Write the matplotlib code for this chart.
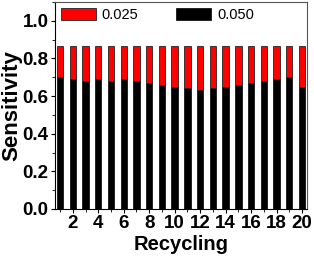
import numpy as np
import matplotlib
matplotlib.use('Agg')
import matplotlib.pyplot as plt
from matplotlib.ticker import MultipleLocator

# podaci ocitani sa slike
cycles = np.arange(1, 21)
black_050 = [0.70, 0.69, 0.68, 0.69, 0.68, 0.69, 0.68, 0.672, 0.66, 0.65,
             0.642, 0.633, 0.642, 0.65, 0.66, 0.669, 0.68, 0.69, 0.70, 0.65]
total = [0.868, 0.868, 0.868, 0.868, 0.866, 0.866, 0.866, 0.864, 0.866, 0.868,
         0.866, 0.868, 0.866, 0.866, 0.868, 0.866, 0.866, 0.868, 0.866, 0.864]
red_025 = [t - b for t, b in zip(total, black_050)]

plt.rcParams['font.family'] = ['Liberation Sans', 'DejaVu Sans']

fig = plt.figure(figsize=(3.14, 2.58), dpi=100)
ax = fig.add_axes([0.175, 0.19, 0.803, 0.802])

ax.bar(cycles, black_050, width=0.5, color='black', edgecolor='black', linewidth=0.5, label='0.050')
ax.bar(cycles, red_025, width=0.5, bottom=black_050, color='#ff0000', edgecolor='#222222',
       linewidth=0.6, label='0.025')

ax.set_xlim(0.6, 20.4)
ax.set_ylim(0, 1.1)
ax.xaxis.set_major_locator(MultipleLocator(2))
ax.xaxis.set_minor_locator(MultipleLocator(1))
ax.yaxis.set_minor_locator(MultipleLocator(0.1))
ax.set_yticks(np.arange(0, 1.01, 0.2))
ax.yaxis.set_major_formatter(plt.FormatStrFormatter('%.1f'))

ax.tick_params(which='major', direction='out', length=3, width=0.8, labelsize=13.5, pad=1.5)
ax.tick_params(which='minor', direction='out', length=2, width=0.6)
for lab in ax.get_xticklabels() + ax.get_yticklabels():
    lab.set_fontweight('bold')

ax.set_xlabel('Recycling', fontsize=14.5, fontweight='bold', labelpad=2)
ax.set_ylabel('Sensitivity', fontsize=16, fontweight='bold', labelpad=0)

for side in ['top', 'right']:
    ax.spines[side].set_color('#555555')
    ax.spines[side].set_linewidth(0.8)
for side in ['left', 'bottom']:
    ax.spines[side].set_linewidth(0.8)

handles, labels = ax.get_legend_handles_labels()
ax.legend(handles[::-1], labels[::-1], ncol=2, loc='upper left', frameon=False,
          fontsize=10.5, handlelength=2.4, handleheight=0.9, columnspacing=2.6,
          handletextpad=0.4, borderaxespad=0.0, borderpad=0.4,
          bbox_to_anchor=(0.0, 1.0))

fig.savefig('out.png', dpi=100)
